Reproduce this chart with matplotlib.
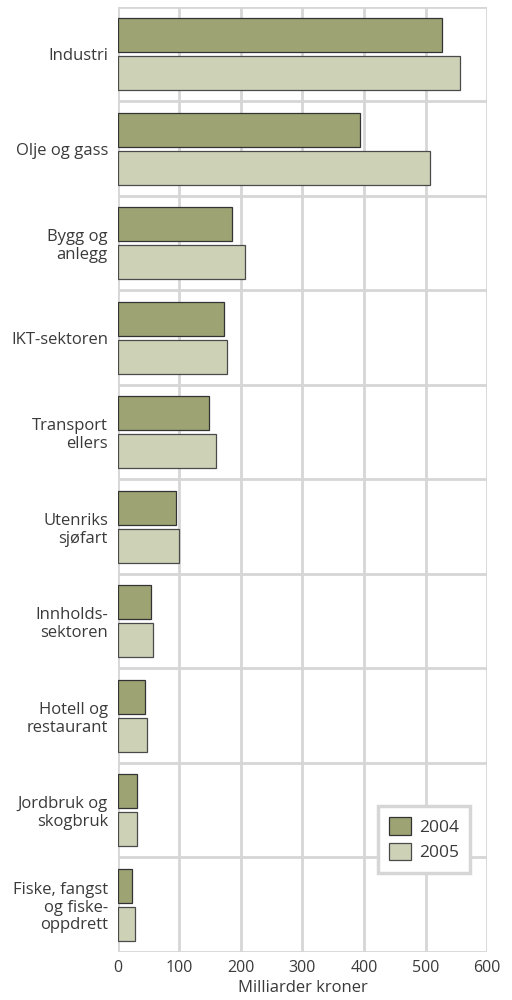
import numpy as np
import matplotlib
matplotlib.use('Agg')
import matplotlib.pyplot as plt

plt.rcParams['font.family'] = ['Open Sans', 'DejaVu Sans']
plt.rcParams.update({'font.size': 12})

categories = ['Industri', 'Olje og gass', 'Bygg og\nanlegg', 'IKT-sektoren',
              'Transport\nellers', 'Utenriks\nsjøfart', 'Innholds-\nsektoren',
              'Hotell og\nrestaurant', 'Jordbruk og\nskogbruk',
              'Fiske, fangst\nog fiske-\noppdrett']
val_2004 = [526, 394, 185, 173, 149, 95, 54, 45, 32, 23]
val_2005 = [556, 508, 207, 178, 159, 99, 58, 48, 32, 28]
xticks = [0, 100, 200, 300, 400, 500, 600]

c2004 = '#9ea374'
c2005 = '#cdd1b5'
grid_c = '#d6d6d6'
text_c = '#3a3a3a'

fig = plt.figure(figsize=(5.12, 10), dpi=100)
ax = fig.add_axes([0.2299, 0.048, 0.7214, 0.945])

idx = np.arange(len(categories))
bar_h = 0.36
ax.barh(idx - 0.2, val_2004, bar_h, color=c2004, edgecolor='#333333', linewidth=0.9, label='2004', zorder=3)
ax.barh(idx + 0.2, val_2005, bar_h, color=c2005, edgecolor='#4a4a4a', linewidth=0.9, label='2005', zorder=3)

ax.set_xlim(0, 600)
ax.set_ylim(len(categories) - 0.5, -0.5)
ax.set_xticks(xticks)
ax.set_xticklabels([str(t) for t in xticks], color=text_c, fontsize=11.5)
ax.set_yticks(idx)
ax.set_yticklabels(categories, color=text_c, linespacing=1.15)
ax.tick_params(axis='both', length=0)
ax.tick_params(axis='y', pad=7)
ax.tick_params(axis='x', pad=6)

# grid: vertical lines at ticks, horizontal separators between categories
for x in xticks:
    ax.axvline(x, color=grid_c, linewidth=2, zorder=1)
for y in np.arange(-0.5, len(categories), 1.0):
    ax.axhline(y, color=grid_c, linewidth=2, zorder=1)
for s in ax.spines.values():
    s.set_visible(False)

ax.set_xlabel('Milliarder kroner', color=text_c, labelpad=3)

leg = ax.legend(loc='lower right', bbox_to_anchor=(0.954, 0.084), borderaxespad=0,
                handlelength=1.25, handleheight=1.2, handletextpad=0.45,
                labelspacing=0.4, borderpad=0.65, fancybox=False, framealpha=1,
                edgecolor=grid_c, fontsize=12.5)
leg.get_frame().set_linewidth(2.5)
for t in leg.get_texts():
    t.set_color(text_c)

plt.savefig('out.png', dpi=100)
